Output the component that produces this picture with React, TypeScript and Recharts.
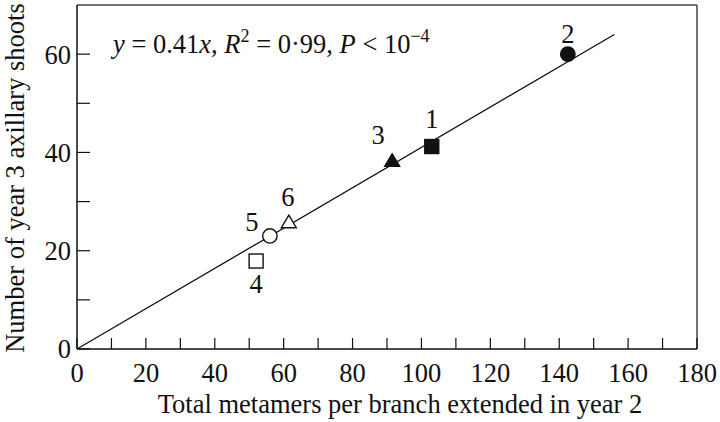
import React from 'react';
import { ScatterChart, Scatter, XAxis, YAxis, ReferenceLine } from 'recharts';

// branch ids and their measured values
const branchIds = ['1', '2', '3', '4', '5', '6'];
const metamers = [103, 142.5, 91.5, 52, 56, 61.5];
const axillaryShoots = [41.2, 60, 38.3, 17.9, 23, 25.8];
const markerKinds = ['square', 'circle', 'triangle', 'square', 'circle', 'triangle'];
const markerFilled = [true, true, true, false, false, false];

// fitted line y = 0.41x, drawn over the range of the data
const fitX = [0, 156];
const fitY = [0, 64];

const xTicks = [0, 10, 20, 30, 40, 50, 60, 70, 80, 90, 100, 110, 120, 130, 140, 150, 160, 170, 180];
const yTicks = [0, 10, 20, 30, 40, 50, 60];

const points = branchIds.map((id, i) => ({
  id,
  x: metamers[i],
  y: axillaryShoots[i],
  kind: markerKinds[i],
  filled: markerFilled[i],
}));
const fitLine = fitX.map((x, i) => ({ x, y: fitY[i] }));

// where each number sits relative to its marker
const labelOffset: Record<string, [number, number]> = {
  '1': [0, -28],
  '2': [0, -20],
  '3': [-14, -26],
  '4': [0, 23],
  '5': [-18, -14],
  '6': [-1, -25],
};

const serif = '"Liberation Serif", "Times New Roman", serif';
const ink = '#111';
const fs = 26.5;

const Marker = (props: any) => {
  const { cx, cy, payload } = props;
  const fill = payload.filled ? ink : '#fff';
  const [dx, dy] = labelOffset[payload.id];
  let mark;
  if (payload.kind === 'circle') {
    mark = <circle cx={cx} cy={cy} r={7.2} fill={fill} stroke={ink} strokeWidth={1.4} />;
  } else if (payload.kind === 'square') {
    mark = <rect x={cx - 7} y={cy - 7} width={14} height={14} fill={fill} stroke={ink} strokeWidth={1.4} />;
  } else {
    mark = (
      <polygon
        points={`${cx - 7.5},${cy + 5.5} ${cx + 7.5},${cy + 5.5} ${cx},${cy - 7}`}
        fill={fill}
        stroke={ink}
        strokeWidth={1.4}
      />
    );
  }
  return (
    <g>
      {mark}
      <text
        x={cx + dx}
        y={cy + dy}
        textAnchor="middle"
        dominantBaseline="central"
        fontFamily={serif}
        fontSize={fs}
        fill={ink}
      >
        {payload.id}
      </text>
    </g>
  );
};

const tickStyle = { fontFamily: serif, fontSize: fs, fill: ink };

export default function App() {
  return (
    <div style={{ position: 'absolute', left: 0, top: 0, width: 720, height: 422, background: '#fff' }}>
      <ScatterChart width={720} height={422} margin={{ top: 5, right: 23, bottom: 0, left: 0 }}>
        <XAxis
          type="number"
          dataKey="x"
          domain={[0, 180]}
          ticks={xTicks}
          interval={0}
          tickFormatter={(v: number) => (v % 20 === 0 ? String(v) : '')}
          height={73}
          tickSize={-11}
          tickMargin={25}
          tick={tickStyle}
          axisLine={{ stroke: ink, strokeWidth: 1.5 }}
          tickLine={{ stroke: ink, strokeWidth: 1.2 }}
        />
        <YAxis
          type="number"
          dataKey="y"
          domain={[0, 70]}
          ticks={yTicks}
          interval={0}
          tickFormatter={(v: number) => (v % 20 === 0 ? String(v) : '')}
          width={77}
          tickSize={-13}
          tickMargin={19}
          tick={tickStyle}
          axisLine={{ stroke: ink, strokeWidth: 1.5 }}
          tickLine={{ stroke: ink, strokeWidth: 1.2 }}
        />
        <ReferenceLine y={70} stroke="#444" strokeWidth={1.5} />
        <ReferenceLine x={180} stroke="#444" strokeWidth={1.5} />
        <Scatter
          data={fitLine}
          line={{ stroke: ink, strokeWidth: 1.3 }}
          shape={() => <g />}
          isAnimationActive={false}
        />
        <Scatter data={points} shape={Marker} isAnimationActive={false} />
      </ScatterChart>
      <svg
        width={720}
        height={422}
        style={{ position: 'absolute', left: 0, top: 0, pointerEvents: 'none' }}
      >
        <text x={113} y={53} fontFamily={serif} fontSize={fs} fill={ink}>
          <tspan fontStyle="italic">y</tspan>
          <tspan> = 0.41</tspan>
          <tspan fontStyle="italic">x</tspan>
          <tspan>, </tspan>
          <tspan fontStyle="italic">R</tspan>
          <tspan fontSize={18} dy={-11}>2</tspan>
          <tspan dy={11}> = 0·99, </tspan>
          <tspan fontStyle="italic">P</tspan>
          <tspan> &lt; 10</tspan>
          <tspan fontSize={18} dy={-11}>−4</tspan>
        </text>
        <text
          x={400}
          y={413}
          textAnchor="middle"
          fontFamily={serif}
          fontSize={fs}
          fill={ink}
        >
          Total metamers per branch extended in year 2
        </text>
        <text
          x={24}
          y={178}
          textAnchor="middle"
          transform="rotate(-90 24 178)"
          fontFamily={serif}
          fontSize={fs}
          fill={ink}
        >
          Number of year 3 axillary shoots
        </text>
      </svg>
    </div>
  );
}
